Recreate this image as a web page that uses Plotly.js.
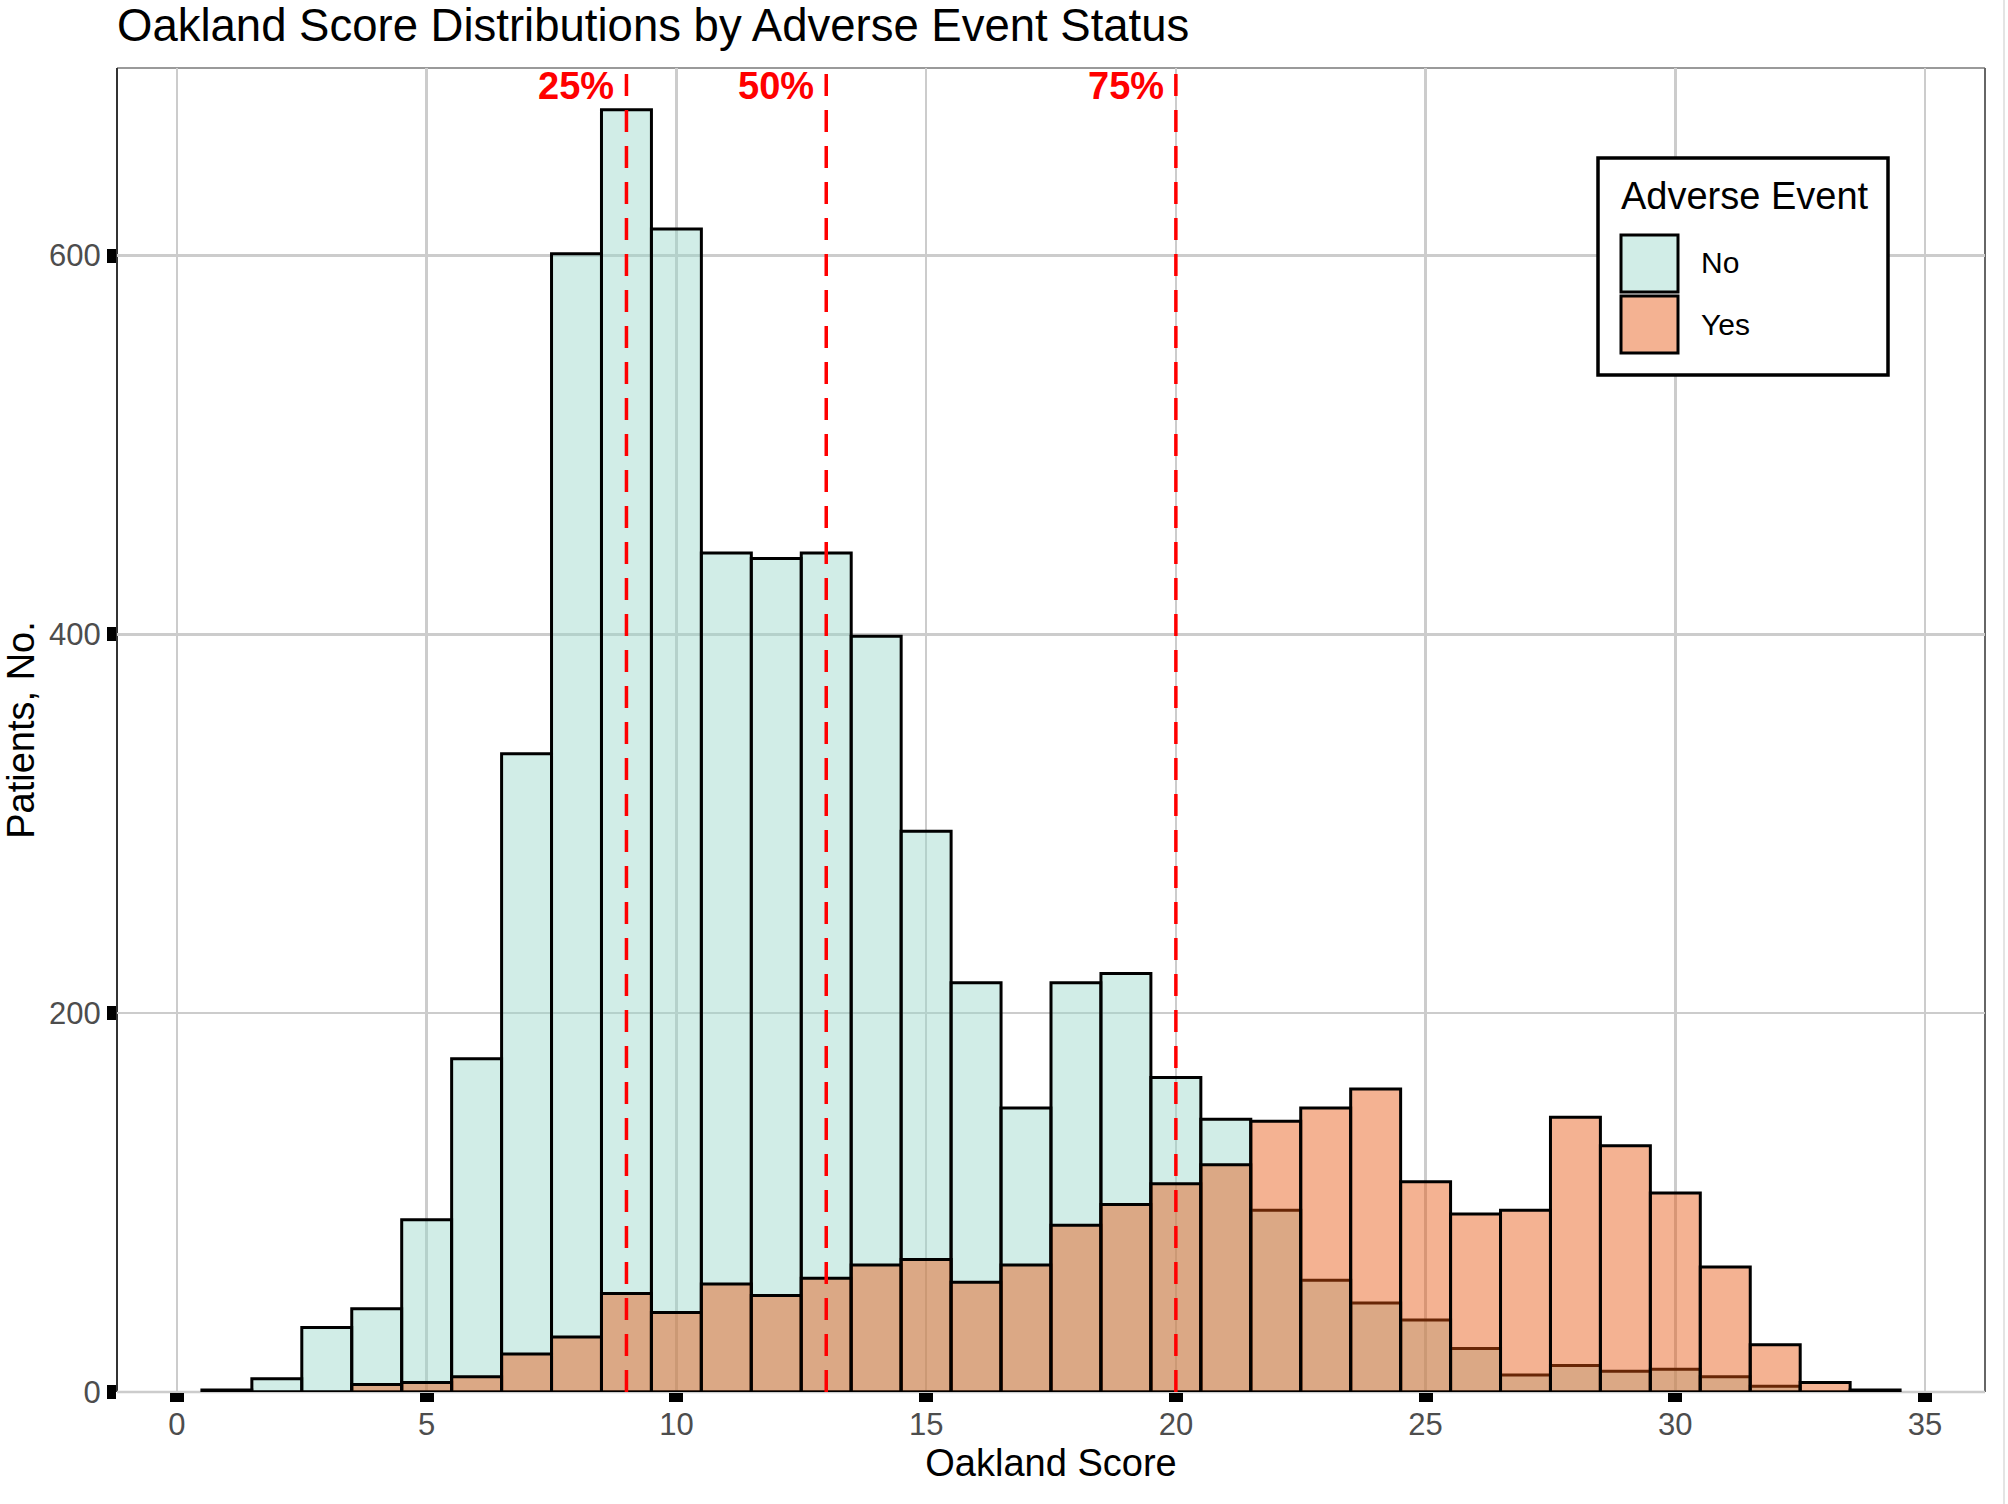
<!DOCTYPE html>
<html>
<head>
<meta charset="utf-8">
<script src="https://cdn.plot.ly/plotly-3.0.1.min.js"></script>
<style>
  html, body { margin: 0; padding: 0; background: #ffffff; }
  #chart { width: 2008px; height: 1504px; }
</style>
</head>
<body>
<div id="chart"></div>
<script>
// Oakland score histogram, bin width 1, bins centred on whole scores
const scores   = [1, 2, 3, 4, 5, 6, 7, 8, 9, 10, 11, 12, 13, 14, 15, 16, 17,
                  18, 19, 20, 21, 22, 23, 24, 25, 26, 27, 28, 29, 30, 31, 32, 33, 34];
const countNo  = [1, 7, 34, 44, 91, 176, 337, 601, 677, 614, 443, 440, 443, 399, 296, 216, 150,
                  216, 221, 166, 144, 96, 59, 47, 38, 23, 9, 14, 11, 12, 8, 3, 0, 0];
const countYes = [0, 0, 0, 4, 5, 8, 20, 29, 52, 42, 57, 51, 60, 67, 70, 58, 67,
                  88, 99, 110, 120, 143, 150, 160, 111, 94, 96, 145, 130, 105, 66, 25, 5, 1];

// quartiles of the score
const quantileScores = [9, 13, 20];
const quantileLabels = ['25%', '50%', '75%'];

const legendTitle  = 'Adverse Event';
const legendLabels = ['No', 'Yes'];

const COLORS = {
    NO: 'rgba(153, 216, 201, 0.45)',
    YES: 'rgba(230, 85, 13, 0.45)',
    OUTLINE: '#000000',
    GRID: '#cccccc',
    QUANT: '#ff0000',
    TICK_TEXT: '#4d4d4d'
};
const FONT = 'Liberation Sans, Arial, sans-serif';

// page geometry (pixels)
const W = 2008, H = 1504;
const M = { l: 117, r: 23, t: 68, b: 112 };
const plotW = W - M.l - M.r;
const plotH = H - M.t - M.b;
// helpers to place legend pieces in paper coordinates from pixel positions
const px = v => (v - M.l) / plotW;
const py = v => (H - M.b - v) / plotH;

const barTrace = (y, color, name) => ({
    type: 'bar',
    name: name,
    x: scores,
    y: y,
    width: 1,
    marker: { color: color, line: { color: COLORS.OUTLINE, width: 3 } },
    hovertemplate: name + ' – score %{x}: %{y}<extra></extra>'
});

const data = [
    barTrace(countNo, COLORS.NO, legendLabels[0]),
    barTrace(countYes, COLORS.YES, legendLabels[1])
];

const shapes = [];
// panel frame
shapes.push({ type: 'line', xref: 'paper', yref: 'paper', x0: 0, x1: 1, y0: 1, y1: 1,
              line: { color: '#9a9a9a', width: 2 }, layer: 'below' });
shapes.push({ type: 'line', xref: 'paper', yref: 'paper', x0: 1, x1: 1, y0: 0, y1: 1,
              line: { color: '#666666', width: 2 }, layer: 'below' });
shapes.push({ type: 'line', xref: 'paper', yref: 'paper', x0: 0, x1: 0, y0: 0, y1: 1,
              line: { color: '#333333', width: 2 }, layer: 'below' });
shapes.push({ type: 'line', xref: 'paper', yref: 'paper', x0: 0, x1: 1, y0: 0, y1: 0,
              line: { color: COLORS.GRID, width: 2.5 }, layer: 'below' });
// thin border at the right edge of the picture
shapes.push({ type: 'line', xref: 'paper', yref: 'paper', x0: px(2004), x1: px(2004),
              y0: py(H), y1: py(0), line: { color: '#e4e4e4', width: 2 } });

// quartile lines
quantileScores.forEach(q => {
    shapes.push({ type: 'line', xref: 'x', yref: 'paper', x0: q, x1: q, y0: 0, y1: 1,
                  line: { color: COLORS.QUANT, width: 3.5, dash: '22px,14px' }, layer: 'above' });
});

// hand-built legend (ggplot style large keys)
shapes.push({ type: 'rect', xref: 'paper', yref: 'paper',
              x0: px(1598), x1: px(1888), y0: py(375), y1: py(158),
              fillcolor: '#ffffff', line: { color: '#000000', width: 3.5 }, layer: 'above' });
shapes.push({ type: 'rect', xref: 'paper', yref: 'paper',
              x0: px(1621), x1: px(1678), y0: py(292), y1: py(235),
              fillcolor: COLORS.NO, line: { color: '#000000', width: 3 }, layer: 'above' });
shapes.push({ type: 'rect', xref: 'paper', yref: 'paper',
              x0: px(1621), x1: px(1678), y0: py(353), y1: py(296),
              fillcolor: COLORS.YES, line: { color: '#000000', width: 3 }, layer: 'above' });

const annotations = quantileScores.map((q, i) => ({
    x: q, xref: 'x', y: py(86), yref: 'paper',
    text: '<b>' + quantileLabels[i] + '</b>',
    showarrow: false, xanchor: 'right', yanchor: 'middle', xshift: -10,
    font: { family: FONT, size: 38, color: COLORS.QUANT }
}));
annotations.push({
    x: px(1619), xref: 'paper', y: py(196), yref: 'paper', text: legendTitle,
    showarrow: false, xanchor: 'left', yanchor: 'middle',
    font: { family: FONT, size: 38, color: '#000000' }
});
annotations.push({
    x: px(1699), xref: 'paper', y: py(263), yref: 'paper', text: legendLabels[0],
    showarrow: false, xanchor: 'left', yanchor: 'middle',
    font: { family: FONT, size: 30, color: '#000000' }
});
annotations.push({
    x: px(1699), xref: 'paper', y: py(325), yref: 'paper', text: legendLabels[1],
    showarrow: false, xanchor: 'left', yanchor: 'middle',
    font: { family: FONT, size: 30, color: '#000000' }
});

const layout = {
    width: W,
    height: H,
    margin: M,
    paper_bgcolor: '#ffffff',
    plot_bgcolor: '#ffffff',
    font: { family: FONT, color: '#000000' },
    barmode: 'overlay',
    bargap: 0,
    showlegend: false,
    title: {
        text: 'Oakland Score Distributions by Adverse Event Status',
        font: { family: FONT, size: 45.5, color: '#000000' },
        xref: 'paper', x: 0, xanchor: 'left',
        yref: 'container', y: 1 - 25 / H, yanchor: 'middle'
    },
    xaxis: {
        range: [-1.2, 36.2],
        tick0: 0, dtick: 5,
        showgrid: true, gridcolor: COLORS.GRID, gridwidth: 2.5,
        zeroline: false, showline: false,
        ticks: 'outside', ticklen: 9, tickwidth: 14, tickcolor: '#000000',
        ticklabelstandoff: -4,
        tickfont: { family: FONT, size: 31, color: COLORS.TICK_TEXT },
        title: { text: 'Oakland Score', font: { family: FONT, size: 38, color: '#000000' }, standoff: 8 },
        automargin: false
    },
    yaxis: {
        range: [0, 699],
        tickvals: [0, 200, 400, 600],
        showgrid: true, gridcolor: COLORS.GRID, gridwidth: 2.5,
        zeroline: false, showline: false,
        ticks: 'outside', ticklen: 9, tickwidth: 14, tickcolor: '#000000',
        tickfont: { family: FONT, size: 31, color: COLORS.TICK_TEXT },
        title: { text: 'Patients, No.', font: { family: FONT, size: 38, color: '#000000' }, standoff: 8 },
        automargin: false
    },
    shapes: shapes,
    annotations: annotations
};

Plotly.newPlot('chart', data, layout, { displayModeBar: false, staticPlot: true });
</script>
</body>
</html>
